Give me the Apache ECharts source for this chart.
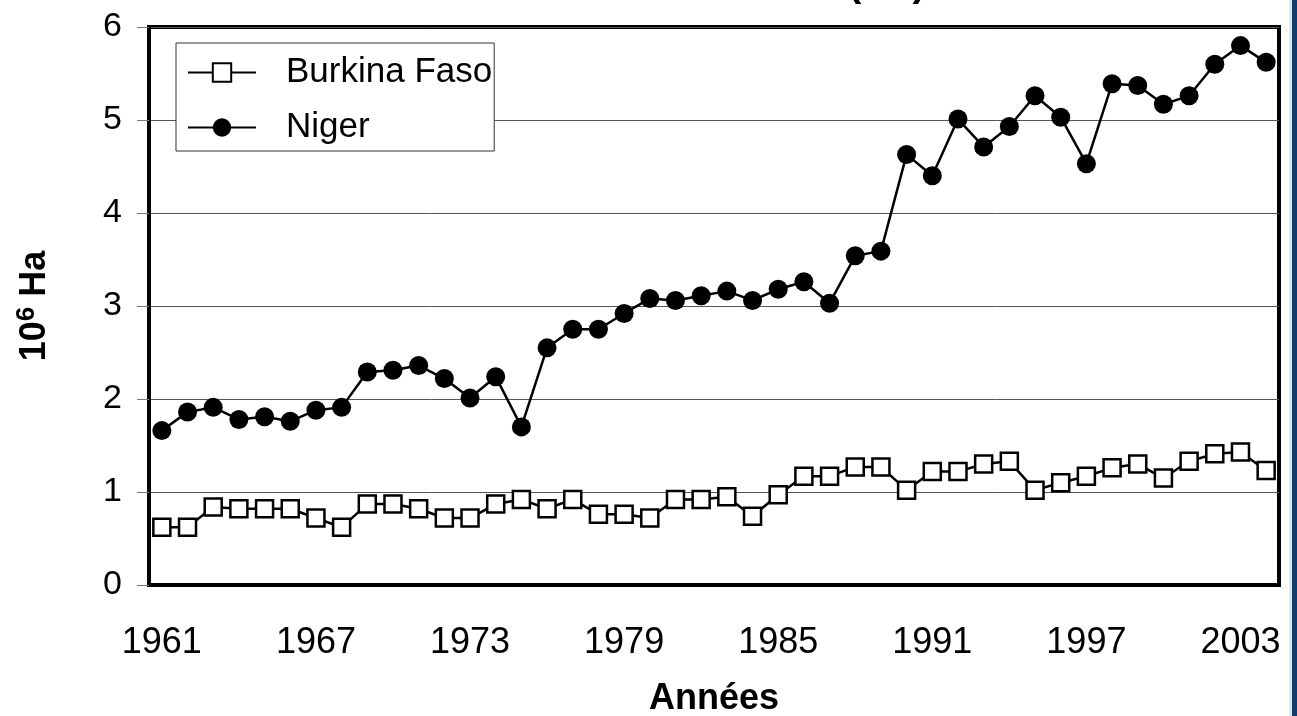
<!DOCTYPE html>
<html>
<head>
<meta charset="utf-8">
<script src="https://cdn.jsdelivr.net/npm/echarts@6/dist/echarts.min.js"></script>
<style>
  html, body { margin: 0; padding: 0; background: #fff; }
  #chart { width: 1297px; height: 716px; }
</style>
</head>
<body>
<div id="chart"></div>
<script>
const years = ['1961','1962','1963','1964','1965','1966','1967','1968','1969','1970',
  '1971','1972','1973','1974','1975','1976','1977','1978','1979','1980',
  '1981','1982','1983','1984','1985','1986','1987','1988','1989','1990',
  '1991','1992','1993','1994','1995','1996','1997','1998','1999','2000',
  '2001','2002','2003','2004'];

const burkina = [0.62, 0.62, 0.84, 0.82, 0.82, 0.82, 0.72, 0.62, 0.87, 0.87,
  0.82, 0.72, 0.72, 0.87, 0.92, 0.82, 0.92, 0.76, 0.76, 0.72,
  0.92, 0.92, 0.95, 0.74, 0.97, 1.17, 1.17, 1.27, 1.27, 1.02,
  1.22, 1.22, 1.30, 1.33, 1.02, 1.10, 1.17, 1.26, 1.30, 1.15,
  1.33, 1.41, 1.43, 1.23];

const niger = [1.66, 1.86, 1.91, 1.78, 1.81, 1.76, 1.88, 1.91, 2.29, 2.31,
  2.36, 2.22, 2.01, 2.24, 1.70, 2.55, 2.75, 2.75, 2.92, 3.08,
  3.06, 3.11, 3.16, 3.06, 3.18, 3.26, 3.03, 3.54, 3.59, 4.63,
  4.40, 5.01, 4.71, 4.93, 5.26, 5.03, 4.53, 5.39, 5.37, 5.17,
  5.26, 5.60, 5.80, 5.62];

const font = 'Arial, "Liberation Sans", sans-serif';

const chart = echarts.init(document.getElementById('chart'));

chart.setOption({
  backgroundColor: '#fff',
  animation: false,
  textStyle: { fontFamily: font, color: '#000' },
  grid: {
    left: 149, right: 18, top: 27, bottom: 131,
    outerBoundsMode: 'none',
    containLabel: false,
    show: true, borderColor: '#000', borderWidth: 4
  },
  legend: {
    orient: 'vertical',
    left: 176, top: 43,
    padding: [12, 2, 6, 11],
    itemGap: 20,
    itemWidth: 68,
    itemHeight: 23,
    backgroundColor: '#fff',
    borderColor: '#333',
    borderWidth: 1,
    textStyle: { fontSize: 35, color: '#000', fontFamily: font, padding: [0, 0, 0, 25] },
    data: ['Burkina Faso', 'Niger']
  },
  xAxis: {
    type: 'category',
    data: years,
    boundaryGap: true,
    name: 'Années',
    nameLocation: 'middle',
    nameGap: 96,
    nameTextStyle: { fontSize: 36, fontWeight: 'bold', color: '#000' },
    axisLine: { lineStyle: { color: '#000', width: 4 } },
    axisTick: { interval: 0, length: 11, lineStyle: { color: '#777', width: 1 } },
    axisLabel: { interval: 5, fontSize: 36, margin: 40, color: '#000' },
    splitLine: { show: false }
  },
  yAxis: {
    type: 'value',
    min: 0, max: 6, interval: 1,
    name: '{b|10}{s|6}{b| Ha}',
    nameLocation: 'middle',
    nameRotate: 90,
    nameGap: 93,
    nameTextStyle: {
      rich: {
        b: { fontSize: 36, fontWeight: 'bold', color: '#000', fontFamily: font },
        s: { fontSize: 26, fontWeight: 'bold', color: '#000', fontFamily: font, verticalAlign: 'top', padding: [0, 0, 16, 0] }
      }
    },
    axisLine: { show: true, lineStyle: { color: '#000', width: 4 } },
    axisTick: { show: true, length: 12, lineStyle: { color: '#777', width: 1 } },
    axisLabel: { fontSize: 34, margin: 27, color: '#000' },
    splitLine: { lineStyle: { color: '#555', width: 1 } }
  },
  series: [
    {
      name: 'Burkina Faso',
      type: 'line',
      data: burkina,
      symbol: 'rect',
      symbolSize: 17,
      showAllSymbol: true,
      lineStyle: { color: '#000', width: 2.5 },
      itemStyle: { color: '#fff', borderColor: '#000', borderWidth: 2.5 },
      z: 3
    },
    {
      name: 'Niger',
      type: 'line',
      data: niger,
      symbol: 'circle',
      symbolSize: 19,
      showAllSymbol: true,
      lineStyle: { color: '#000', width: 2.5 },
      itemStyle: { color: '#000', borderColor: '#000', borderWidth: 0 },
      z: 4
    }
  ],
  graphic: [
    {
      type: 'text',
      left: 848,
      top: -35,
      style: { text: '(Ha)', font: 'bold 40px ' + font, fill: '#000' }
    },
    { type: 'rect', shape: { x: 1289, y: 0, width: 3, height: 716 }, style: { fill: '#dfe6ee' }, silent: true },
    { type: 'rect', shape: { x: 1292, y: 0, width: 5, height: 716 }, style: { fill: '#0f3c70' }, silent: true }
  ]
});
</script>
</body>
</html>
